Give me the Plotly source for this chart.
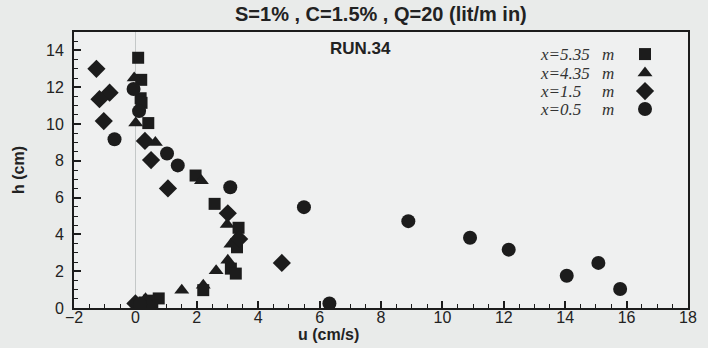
import plotly.graph_objects as go

# ---- data ----
u_535 = [0.09, 0.19, 0.17, 0.20, 0.42, 1.96, 2.58, 3.36, 3.31, 3.11, 3.27, 2.21, 0.76, 0.44, 0.55, 0.30]
h_535 = [13.6, 12.4, 11.4, 11.15, 10.05, 7.2, 5.66, 4.36, 3.3, 2.14, 1.87, 0.97, 0.52, 0.40, 0.16, 0.30]

u_435 = [-0.04, 0.01, 0.65, 2.15, 2.99, 3.30, 3.11, 3.01, 2.63, 2.21, 1.51, 0.33, 0.05]
h_435 = [12.5, 10.05, 9.0, 6.92, 4.54, 3.85, 3.46, 2.59, 2.02, 1.24, 0.97, 0.50, 0.22]

u_15 = [-1.27, -0.84, -1.17, -1.03, 0.31, 0.51, 1.06, 3.01, 3.38, 4.77, 0.00]
h_15 = [13.0, 11.7, 11.35, 10.16, 9.08, 8.04, 6.5, 5.15, 3.75, 2.45, 0.25]

u_05 = [-0.06, 0.12, -0.68, 1.03, 1.38, 3.09, 5.49, 8.89, 10.9, 12.16, 14.05, 15.08, 15.79, 6.32, 0.15]
h_05 = [11.9, 10.7, 9.17, 8.4, 7.75, 6.56, 5.48, 4.72, 3.82, 3.17, 1.75, 2.45, 1.03, 0.25, 0.20]

legend_values = ["x=5.35", "x=4.35", "x=1.5", "x=0.5"]
legend_unit = "m"
x_ticks = [-2, 0, 2, 4, 6, 8, 10, 12, 14, 16, 18]
y_ticks = [0, 2, 4, 6, 8, 10, 12, 14]

title_text = "S=1% , C=1.5% , Q=20 (lit/m in)"
run_text = "RUN.34"

# ---- styles ----
INK = "#1c1c1c"
PAPER = "#e9ebea"
series = [
    (u_535, h_535, "square", 12),
    (u_435, h_435, "triangle-up", 13),
    (u_15, h_15, "diamond", 14),
    (u_05, h_05, "circle", 14),
]

fig = go.Figure()
for (u, h, sym, sz), lab in zip(series, legend_values):
    fig.add_trace(go.Scatter(
        x=u, y=h, mode="markers", name=f"{lab} {legend_unit}",
        marker=dict(symbol=sym, size=sz, color=INK, line=dict(width=0)),
        showlegend=False,
    ))

# legend keys (placed in a fixed 0..1 overlay frame)
key_x = 0.93
key_y = [0.920, 0.851, 0.786, 0.721]
for (u, h, sym, sz), ky in zip(series, key_y):
    fig.add_trace(go.Scatter(
        x=[key_x], y=[ky], mode="markers", xaxis="x2", yaxis="y2",
        marker=dict(symbol=sym, size=sz, color=INK), showlegend=False,
        hoverinfo="skip",
    ))

annotations = []
for lab, ky in zip(legend_values, key_y):
    annotations.append(dict(x=0.755, y=ky, xref="paper", yref="paper", text=f"<i>{lab}</i>",
                            showarrow=False, xanchor="left", yanchor="middle",
                            font=dict(family="Liberation Serif", size=17, color="#333")))
    annotations.append(dict(x=0.857, y=ky, xref="paper", yref="paper", text=f"<i>{legend_unit}</i>",
                            showarrow=False, xanchor="left", yanchor="middle",
                            font=dict(family="Liberation Serif", size=17, color="#333")))

annotations.append(dict(x=0.5, y=1.0, xref="paper", yref="paper", yshift=18, text=f"<b>{title_text}</b>",
                        showarrow=False, xanchor="center", yanchor="middle",
                        font=dict(family="Liberation Sans", size=20, color="#222")))
annotations.append(dict(x=0.467, y=0.941, xref="paper", yref="paper", text=f"<b>{run_text}</b>",
                        showarrow=False, xanchor="center", yanchor="middle",
                        font=dict(family="Liberation Sans", size=17, color="#222")))
annotations.append(dict(x=0.415, y=0, xref="paper", yref="paper", yshift=-26, text="<b>u (cm/s)</b>",
                        showarrow=False, xanchor="center", yanchor="middle",
                        font=dict(family="Liberation Sans", size=16, color="#222")))
annotations.append(dict(x=0, y=0.5, xref="paper", yref="paper", xshift=-56, text="<b>h (cm)</b>",
                        showarrow=False, xanchor="center", yanchor="middle", textangle=-90,
                        font=dict(family="Liberation Sans", size=16, color="#222")))

axis_common = dict(
    showline=True, linecolor=INK, linewidth=2, mirror=True,
    ticks="inside", ticklen=7, tickwidth=1.5, tickcolor=INK,
    showgrid=False,
    tickfont=dict(family="Liberation Sans", size=16, color="#222"),
)

fig.update_layout(
    width=708, height=348,
    margin=dict(l=74, r=11, t=32, b=40),
    paper_bgcolor=PAPER, plot_bgcolor="#eff0f0",
    showlegend=False,
    xaxis=dict(range=[-2, 18], tickvals=x_ticks, zeroline=True, zerolinecolor="#c4c8c8",
               zerolinewidth=1, ticklabelstandoff=-6,
               minor=dict(dtick=0.5, ticks="inside", ticklen=4, tickcolor=INK, tickwidth=1),
               **axis_common),
    yaxis=dict(range=[0, 15], tickvals=y_ticks, zeroline=False, ticklabelstandoff=5,
               minor=dict(dtick=0.5, ticks="inside", ticklen=4, tickcolor=INK, tickwidth=1),
               **axis_common),
    xaxis2=dict(overlaying="x", range=[0, 1], visible=False),
    yaxis2=dict(overlaying="y", range=[0, 1], visible=False),
    annotations=annotations,
)

fig.write_html(
    "out.html",
    config={"displayModeBar": False},
    post_script=f"document.body.style.margin='0';document.body.style.background='{PAPER}';",
)
